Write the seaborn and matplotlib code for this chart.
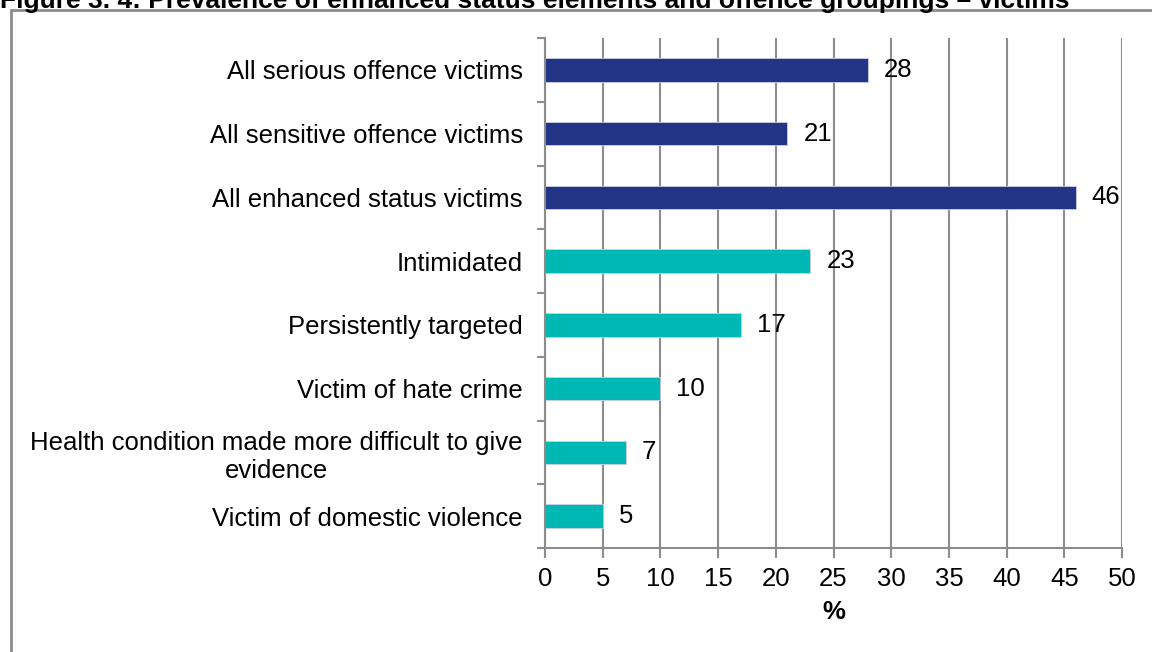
import matplotlib
matplotlib.use("Agg")
import matplotlib.pyplot as plt
import seaborn as sns
import pandas as pd

categories = [
    "All serious offence victims",
    "All sensitive offence victims",
    "All enhanced status victims",
    "Intimidated",
    "Persistently targeted",
    "Victim of hate crime",
    "Health condition made more difficult to give\nevidence",
    "Victim of domestic violence",
]
values = [28, 21, 46, 23, 17, 10, 7, 5]
groups = ["Grouping", "Grouping", "Grouping",
          "Element", "Element", "Element", "Element", "Element"]
x_ticks = [0, 5, 10, 15, 20, 25, 30, 35, 40, 45, 50]

title = "Figure 3. 4: Prevalence of enhanced status elements and offence groupings \u2013 victims"

palette = {"Grouping": "#233385", "Element": "#00B8B3"}
grid_grey = "#8C8C8C"
fs = 18.5

sns.set_theme(style="white")
plt.rcParams["font.family"] = ["Liberation Sans", "DejaVu Sans"]
plt.rcParams["text.color"] = "black"

df = pd.DataFrame({"category": categories, "value": values, "group": groups})

fig = plt.figure(figsize=(11.52, 6.52), dpi=100)
ax = fig.add_axes([545 / 1152, 1 - 548 / 652, (1122 - 545) / 1152, (548 - 38) / 652])

sns.barplot(data=df, x="value", y="category", hue="group", palette=palette,
            dodge=False, width=0.37, legend=False, ax=ax,
            edgecolor="#C8D0E8", linewidth=0.6, saturation=1)

ax.set_xlim(0, 50)
ax.set_ylim(len(categories) - 0.5, -0.5)
ax.set_xticks(x_ticks)
ax.set_xticklabels([str(t) for t in x_ticks], fontsize=fs)
ax.xaxis.grid(True, color=grid_grey, linewidth=1.5)
ax.yaxis.grid(False)
ax.set_axisbelow(True)

# category labels with boundary ticks between bars
ax.set_yticks(range(len(categories)))
ax.set_yticklabels(categories, fontsize=fs, multialignment="center")
ax.tick_params(axis="y", length=0, pad=16, labelcolor="black")
ax.set_yticks([i + 0.5 for i in range(-1, len(categories))], minor=True)
ax.tick_params(axis="y", which="minor", length=6, width=1.5, color=grid_grey, left=True)
ax.tick_params(axis="x", length=7, width=1.5, color=grid_grey, bottom=True, pad=7,
               labelcolor="black")

for side in ("top", "right"):
    ax.spines[side].set_visible(False)
for side in ("left", "bottom"):
    ax.spines[side].set_color(grid_grey)
    ax.spines[side].set_linewidth(1.5)

ax.set_xlabel("%", fontsize=fs, fontweight="bold", labelpad=6, color="black")
ax.set_ylabel("")

for i, v in enumerate(values):
    ax.annotate(f"{v}", xy=(v, i), xytext=(16, 0), textcoords="offset pixels",
                ha="left", va="center", fontsize=fs, color="black")

# outer chart frame and heading above it
frame = plt.Rectangle((11 / 1152, -0.05), 1.2, 1 - 10 / 652 + 0.05,
                      transform=fig.transFigure, fill=False,
                      edgecolor=grid_grey, linewidth=2, clip_on=False)
fig.add_artist(frame)
fig.text(0.0, 1 - 1 / 652, title, ha="left", va="center",
         fontsize=19, fontweight="bold", color="black")

fig.savefig("out.png", dpi=100)
